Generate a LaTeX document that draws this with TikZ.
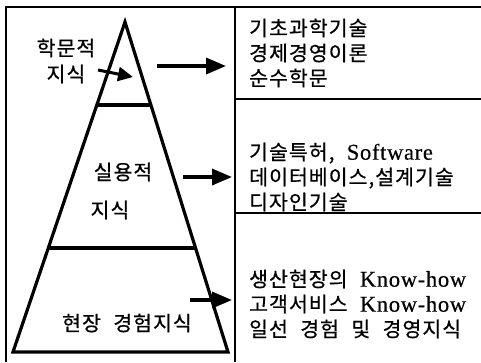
\documentclass[tikz,border=0pt]{standalone}
\usepackage{fontspec}
\setmainfont{Noto Sans CJK KR}[LetterSpace=5,FakeBold=0.6,WordSpace=2.2]
\newfontfamily\lat{Liberation Serif}[Scale=1.1,LetterSpace=3,FakeBold=0.4]
\usetikzlibrary{arrows.meta,positioning,calc}

\tikzset{
  frame/.style={line width=2pt},
  layer/.style={line width=3.2pt},
  bigarrow/.style={line width=3.4pt,-{Triangle[length=20pt,width=16pt]}},
  smallarrow/.style={line width=3pt,-{Triangle[length=15pt,width=14pt]}},
  lvl/.style={font=\fontsize{20.5}{25}\selectfont,inner sep=0pt},
  list/.style={font=\fontsize{20.5}{25}\selectfont,align=left,anchor=west,inner sep=0pt},
}

\begin{document}
\begin{tikzpicture}[x=1pt,y=-1pt]
        \useasboundingbox (0,0) rectangle (481,362);

        % 1. Frame
        \draw[frame] (6,362) -- (6,7) -- (481,7);
        \draw[frame] (235,7) -- (235,362);
        \draw[frame] (235,99) -- (481,99);
        \draw[frame] (235,213) -- (481,213);

        % 2. Pyramid and its layers
        \coordinate (apex) at (125,22);
        \coordinate (bl) at (13,352);
        \coordinate (br) at (228,352);
        \draw[layer,line join=miter] (apex) -- (bl) -- (br) -- cycle;
        \draw[layer] ($(apex)!0.2515!(bl)$) -- ($(apex)!0.2515!(br)$);
        \draw[layer] ($(apex)!0.685!(bl)$) -- ($(apex)!0.685!(br)$);

        % Layer labels
        \node (hak) at (66,48) [lvl] {학문적};
        \node (ji1) [below = 7pt of hak, lvl] {지식};
        \node (sil) at (123,172) [lvl] {실용적};
        \node (ji2) at (110,210) [lvl] {지식};
        \node (hyun) at (127,323) [lvl] {현장 경험지식};

        % 3. Lists on the right
        \node (top) at (249,53) [list] {기초과학기술\\경제경영이론\\순수학문};
        \node (mid) at (249,177) [list] {기술특허, {\lat Software}\\데이터베이스,설계기술\\디자인기술};
        \node (bot) at (249,304) [list] {생산현장의 {\lat Know-how}\\고객서비스 {\lat Know-how}\\일선 경험 및 경영지식};

        % 4. Arrows
        \coordinate (s0) at (98,70);  \coordinate (e0) at (133,77);
        \coordinate (s1) at (157,66); \coordinate (e1) at (226,66);
        \coordinate (s2) at (183,177); \coordinate (e2) at (232,177);
        \coordinate (s3) at (190,300); \coordinate (e3) at (232,300);
        \draw[smallarrow] (s0) -- (e0);
        \draw[bigarrow] (s1) -- (e1);
        \draw[bigarrow] (s2) -- (e2);
        \draw[bigarrow] (s3) -- (e3);

    \end{tikzpicture}
\end{document}
